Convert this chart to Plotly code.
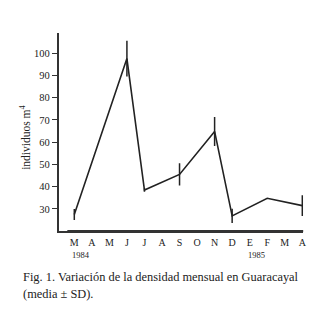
import plotly.graph_objects as go

# Data (month index 0 = March 1984)
month_labels = ["M", "A", "M", "J", "J", "A", "S", "O", "N", "D", "E", "F", "M", "A"]
sample_months = [0, 3, 4, 6, 8, 9, 11, 13]
density_mean = [27.5, 97.5, 38.5, 45.5, 64.8, 26.9, 34.8, 31.5]
density_sd = [2.5, 8.0, 0.8, 5.0, 6.5, 3.2, 0.0, 4.7]
year_labels = ["1984", "1985"]
year_positions = [0.4, 10.4]

# page has an 8px body margin; layout numbers below are page pixels
OFF = 8
W, H = 317, 302


def px(xp):
    return (xp - OFF) / W


def py(yp):
    return (H - (yp - OFF)) / H


fig = go.Figure()
fig.add_trace(go.Scatter(
    x=sample_months, y=density_mean, mode="lines",
    line=dict(color="#222222", width=1.6),
    error_y=dict(type="data", array=density_sd, visible=True,
                 color="#222222", thickness=1.5, width=0),
    showlegend=False,
))

serif = "Liberation Serif"

fig.update_layout(
    width=W, height=H,
    margin=dict(l=0, r=0, t=0, b=0),
    paper_bgcolor="white", plot_bgcolor="white",
    font=dict(family=serif, color="#222222"),
    xaxis=dict(
        domain=[px(59), px(306)], range=[-0.9, 13.05],
        showline=True, linecolor="#333333", linewidth=1.5,
        showgrid=False, zeroline=False,
        tickmode="array", tickvals=list(range(len(month_labels))), ticktext=month_labels,
        ticks="outside", ticklen=1, tickcolor="rgba(255,255,255,0)",
        tickfont=dict(family=serif, size=10, color="#222222"),
    ),
    yaxis=dict(
        domain=[py(231), py(33)], range=[20.1, 109],
        showline=True, linecolor="#333333", linewidth=1.5,
        showgrid=False, zeroline=False,
        tickmode="array", tickvals=[30, 40, 50, 60, 70, 80, 90, 100],
        ticks="outside", ticklen=5, tickwidth=1.2, tickcolor="#333333",
        tickfont=dict(family=serif, size=10.5, color="#222222"),
    ),
)

# explicit baseline under the plot (same place as the x-axis line)
fig.add_shape(type="line", xref="x domain", yref="y domain", layer="above",
              x0=0.036, x1=1, y0=0, y1=0,
              line=dict(color="#333333", width=2))

fig.add_annotation(x=px(25), y=py(138), xref="paper", yref="paper",
                   textangle=-90, showarrow=False,
                   xanchor="center", yanchor="middle",
                   text="individuos m<sup>4</sup>",
                   font=dict(family=serif, size=11.5, color="#222222"))

for lab, pos in zip(year_labels, year_positions):
    fig.add_annotation(x=pos, y=py(255), xref="x", yref="paper",
                       yanchor="middle", text=lab, showarrow=False,
                       font=dict(family=serif, size=8.5, color="#222222"))

fig.add_annotation(x=px(21), y=py(277), xref="paper", yref="paper",
                   xanchor="left", yanchor="middle", showarrow=False,
                   text="Fig. 1. Variación de la densidad mensual en Guaracayal",
                   font=dict(family=serif, size=12.4, color="#222222"))
fig.add_annotation(x=px(21), y=py(294), xref="paper", yref="paper",
                   xanchor="left", yanchor="middle", showarrow=False,
                   text="(media ± SD).",
                   font=dict(family=serif, size=12.4, color="#222222"))

fig.write_html("out.html")
